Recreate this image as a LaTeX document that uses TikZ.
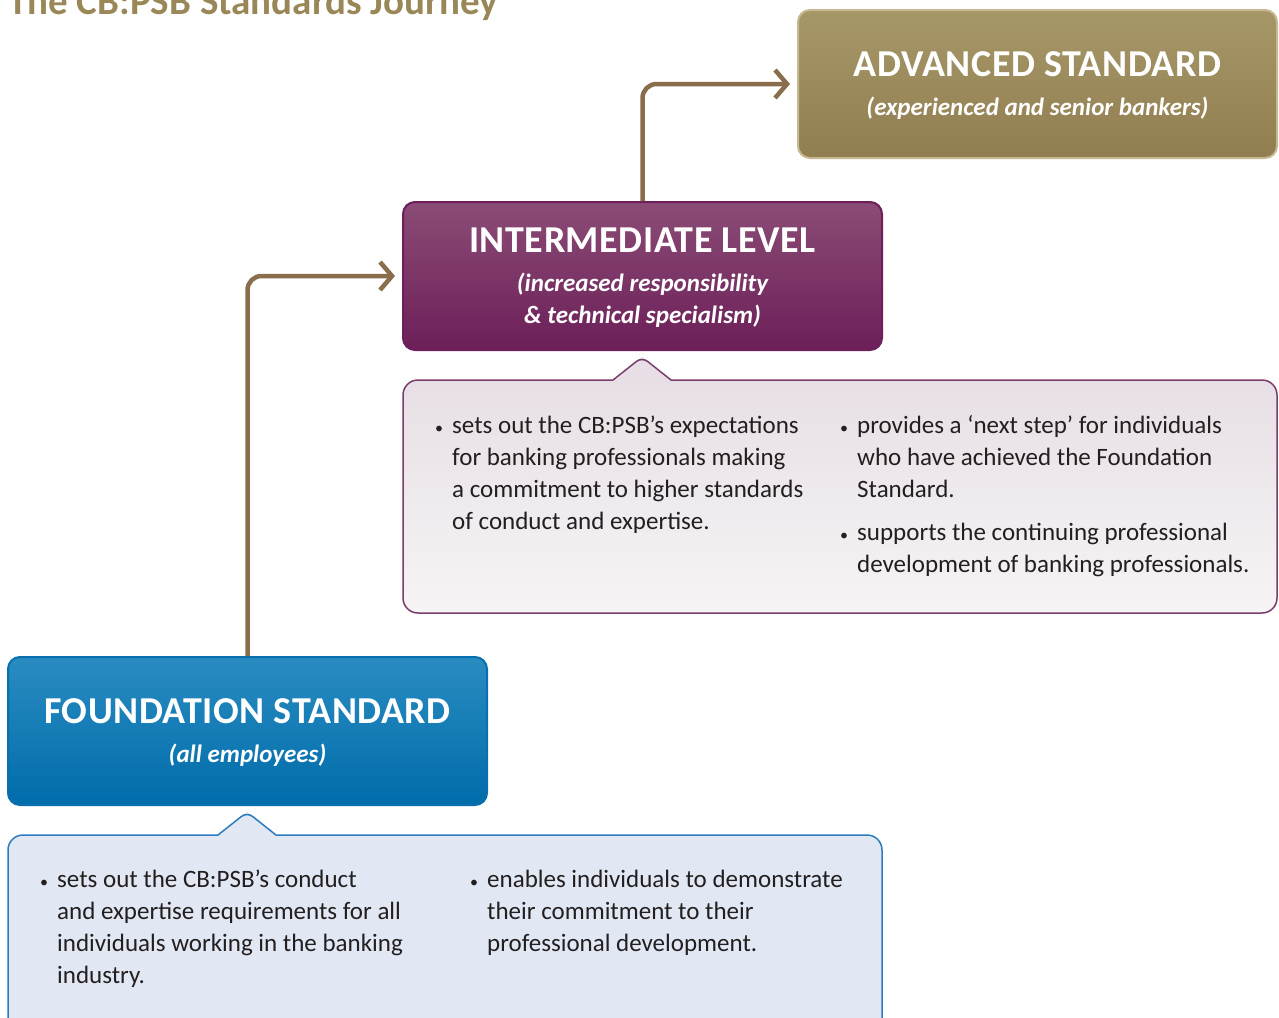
\documentclass[tikz,border=0pt]{standalone}
\usepackage{fontspec}
\setmainfont{Carlito}
\usetikzlibrary{arrows.meta}
\definecolor{titlegold}{HTML}{9A8758}
\definecolor{advtop}{HTML}{A69769}
\definecolor{advbot}{HTML}{917E50}
\definecolor{advline}{HTML}{C6B991}
\definecolor{intertop}{HTML}{8B4C76}
\definecolor{interbot}{HTML}{6C1F58}
\definecolor{interline}{HTML}{6D1F59}
\definecolor{foundtop}{HTML}{2A8CC1}
\definecolor{foundbot}{HTML}{006CAA}
\definecolor{foundline}{HTML}{0A6FAE}
\definecolor{calltopP}{HTML}{E7DFE5}
\definecolor{callbotP}{HTML}{F6F4F5}
\definecolor{calllineP}{HTML}{7A3C6A}
\definecolor{callB}{HTML}{E1E8F3}
\definecolor{calllineB}{HTML}{2B7BBE}
\definecolor{flowbrown}{HTML}{8A6D4C}
\definecolor{bodytext}{HTML}{231F20}
\tikzset{
  levelbox/.style={rounded corners=12pt, minimum width=479pt, minimum height=148pt, line width=2pt, inner sep=0pt},
  headtext/.style={anchor=base, inner sep=0pt, text=white, font=\bfseries\fontsize{38}{38}\selectfont\addfontfeatures{LetterSpace=1.5}},
  subtext/.style={anchor=base, inner sep=0pt, text=white, font=\bfseries\itshape\fontsize{25}{25}\selectfont},
  bullettext/.style={anchor=north west, inner sep=0pt, align=left, text=bodytext, font=\fontsize{25}{32}\selectfont},
  flow/.style={draw=flowbrown, line width=4.5pt, rounded corners=14pt, shorten >=7pt,
    -{Straight Barb[length=12pt,width=28pt]}},
}
\newcommand{\bul}{\strut\llap{{\fontsize{16}{16}\selectfont •}\hspace{9pt}}}
\begin{document}
\begin{tikzpicture}[x=1pt,y=-1pt]
\useasboundingbox (0,0) rectangle (1279,1017);
% title
\node[anchor=base west, inner sep=0pt, text=titlegold, font=\bfseries\fontsize{39}{39}\selectfont] (title) at (8,14) {The CB:PSB Standards Journey};

% callouts
\path[draw=calllineP, line width=1.5pt, top color=calltopP, bottom color=callbotP, rounded corners=15pt]
  (403,380) rectangle (1277,613);
\fill[calltopP] (612,381.6) -- (642,357) -- (672,381.6) -- cycle;
\draw[calllineP, line width=1.5pt, rounded corners=7pt] (613,380) -- (642,357) -- (671,380);

\path[draw=calllineB, line width=1.5pt, fill=callB, rounded corners=15pt]
  (8,835) rectangle (882,1045);
\fill[callB] (217,836.6) -- (247,812) -- (277,836.6) -- cycle;
\draw[calllineB, line width=1.5pt, rounded corners=7pt] (218,835) -- (247,812) -- (276,835);

% level boxes
\node[levelbox, draw=advline, top color=advtop, bottom color=advbot] (adv) at (1037.5,84) {};
\node[levelbox, draw=interline, top color=intertop, bottom color=interbot] (inter) at (642.5,276) {};
\node[levelbox, draw=foundline, top color=foundtop, bottom color=foundbot] (found) at (247.5,731) {};

\node[headtext] (advh) at (1037.5,76) {ADVANCED STANDARD};
\node[subtext] (advs) at (1037.5,115) {(experienced and senior bankers)};
\node[headtext] (interh) at (642.5,252) {INTERMEDIATE LEVEL};
\node[subtext] (inters1) at (642.5,291) {(increased responsibility};
\node[subtext] (inters2) at (642.5,323) {\& technical specialism)};
\node[headtext] (foundh) at (247.5,723) {FOUNDATION STANDARD};
\node[subtext] (founds) at (247.5,762) {(all employees)};

% connectors
\draw[flow] (found.north) |- (inter.west);
\draw[flow] (inter.north) |- (adv.west);

% bullets
\node[bullettext] (i1) at (452,410.6) {\bul sets out the CB:PSB’s expectations\\for banking professionals making\\a commitment to higher standards\\of conduct and expertise.};
\node[bullettext] (i2) at (857,410.6) {\bul provides a ‘next step’ for individuals\\who have achieved the Foundation\\Standard.};
\node[bullettext] (i3) at (857,517.6) {\bul supports the continuing professional\\development of banking professionals.};
\node[bullettext] (f1) at (57,864.6) {\bul sets out the CB:PSB’s conduct\\and expertise requirements for all\\individuals working in the banking\\industry.};
\node[bullettext] (f2) at (487,864.6) {\bul enables individuals to demonstrate\\their commitment to their\\professional development.};
\end{tikzpicture}
\end{document}
